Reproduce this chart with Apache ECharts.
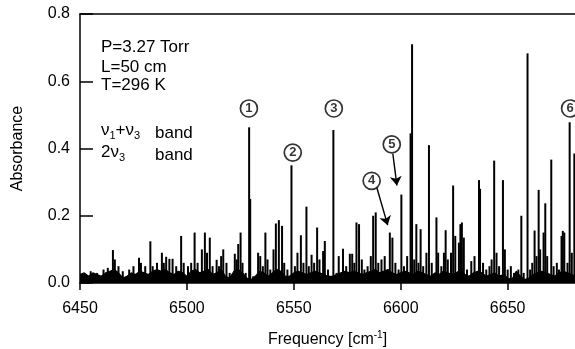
<!DOCTYPE html>
<html>
<head>
<meta charset="utf-8">
<script src="https://cdn.jsdelivr.net/npm/echarts@6/dist/echarts.min.js"></script>
<style>
  html, body { margin: 0; padding: 0; background: #fff; }
  #chart { width: 575px; height: 349px; }
</style>
</head>
<body>
<div id="chart"></div>
<script>
// strong lines: frequency (cm-1) and absorbance
const peakFreq = [
  6452, 6455, 6458, 6461, 6463, 6465.4, 6466.3, 6468, 6470, 6473, 6475, 6477.6, 6478.5, 6480.5,
  6482.9, 6484, 6486, 6488.3, 6489.2, 6490.3, 6491.8, 6493.3, 6495, 6497.3, 6498.5, 6500.5,
  6502, 6503.6, 6505, 6507, 6508.4, 6509.4, 6510.7, 6512, 6513.9, 6515, 6516, 6517, 6518.5,
  6520, 6522.4, 6523.3, 6524, 6525.1, 6526, 6527.5, 6529.1, 6529.6, 6531, 6533.3, 6534.3,
  6535.5, 6536.7, 6537.7, 6539, 6540.5, 6541.6, 6543, 6544.5, 6545.5, 6547, 6548.9, 6550.5,
  6551.7, 6553.3, 6554.5, 6555.9, 6557, 6558.3, 6559.5, 6560.9, 6562, 6563.7, 6564.5, 6566,
  6568.5, 6570, 6571, 6573, 6574.5, 6576.2, 6577.3, 6578.3, 6579.3, 6580.5, 6581.8, 6583,
  6584.5, 6586, 6587.1, 6588.3, 6589.5, 6591, 6592.5, 6594.9, 6596.1, 6597.5, 6599, 6600.3,
  6601.5, 6603, 6604.6, 6605.3, 6606.3, 6607.3, 6608.3, 6609.3, 6610.5, 6612, 6613.2, 6614.5,
  6616.7, 6617.5, 6619, 6620.2, 6621, 6622, 6623.5, 6624.5, 6625.5, 6627.2, 6627.9, 6628.6,
  6629.5, 6631, 6633, 6634.5, 6636.6, 6637.1, 6638.5, 6640, 6641.5, 6642.5, 6643.7, 6644.8,
  6646, 6647.8, 6648.7, 6650, 6651.5, 6653, 6655, 6656.4, 6657.5, 6659.3, 6660.5, 6661.5,
  6662.6, 6663.5, 6664.5, 6665.2, 6666.8, 6667.6, 6668.5, 6670.4, 6671.5, 6673, 6674, 6675.2,
  6675.8, 6676.5, 6678, 6679, 6680, 6681.2
];
const peakAbs = [
  0.03, 0.035, 0.03, 0.04, 0.045, 0.098, 0.07, 0.05, 0.035, 0.04, 0.05, 0.075, 0.06, 0.05,
  0.124, 0.05, 0.06, 0.09, 0.06, 0.078, 0.072, 0.072, 0.05, 0.14, 0.06, 0.05,
  0.06, 0.15, 0.06, 0.1, 0.15, 0.09, 0.135, 0.05, 0.069, 0.05, 0.08, 0.10, 0.06,
  0.03, 0.087, 0.07, 0.116, 0.15, 0.06, 0.03, 0.463, 0.25, 0.02, 0.09, 0.08,
  0.05, 0.15, 0.07, 0.04, 0.1, 0.177, 0.187, 0.17, 0.06, 0.04, 0.35, 0.05,
  0.09, 0.142, 0.06, 0.227, 0.05, 0.084, 0.06, 0.165, 0.07, 0.095, 0.125, 0.04,
  0.455, 0.03, 0.08, 0.102, 0.05, 0.087, 0.087, 0.06, 0.18, 0.175, 0.07, 0.04,
  0.05, 0.08, 0.2, 0.21, 0.06, 0.07, 0.08, 0.15, 0.135, 0.06, 0.04, 0.263,
  0.05, 0.08, 0.445, 0.71, 0.07, 0.175, 0.06, 0.16, 0.05, 0.09, 0.41, 0.06,
  0.195, 0.09, 0.05, 0.09, 0.157, 0.07, 0.09, 0.29, 0.14, 0.12, 0.175, 0.18,
  0.135, 0.04, 0.065, 0.08, 0.306, 0.28, 0.06, 0.04, 0.05, 0.07, 0.364, 0.09,
  0.05, 0.306, 0.1, 0.04, 0.05, 0.03, 0.04, 0.2, 0.03, 0.683, 0.04, 0.06,
  0.156, 0.08, 0.277, 0.1, 0.15, 0.237, 0.08, 0.367, 0.05, 0.06, 0.04, 0.14,
  0.155, 0.15, 0.06, 0.478, 0.09, 0.385
];

// dense weak-line floor, every 2 cm-1 from 6450
const floorStart = 6450;
const floorStep = 2;
const floorAbs = [
  0.025, 0.03, 0.02, 0.03, 0.025, 0.02, 0.03, 0.035, 0.04, 0.03, 0.015, 0.02, 0.03, 0.025,
  0.035, 0.03, 0.025, 0.035, 0.04, 0.035, 0.04, 0.03, 0.025, 0.035, 0.03,
  0.02, 0.035, 0.04, 0.03, 0.035, 0.04, 0.025, 0.03, 0.04, 0.02, 0.015, 0.035, 0.04, 0.03,
  0.015, 0.01, 0.02, 0.035, 0.03, 0.02, 0.03, 0.04, 0.035, 0.02, 0.02, 0.03, 0.035, 0.03,
  0.025, 0.03, 0.035, 0.03, 0.025, 0.02, 0.02, 0.025, 0.03, 0.035, 0.03, 0.035, 0.03, 0.025,
  0.03, 0.035, 0.04, 0.03, 0.035, 0.04, 0.03, 0.025, 0.03, 0.035, 0.03, 0.025, 0.035, 0.03,
  0.025, 0.02, 0.03, 0.025, 0.035, 0.03, 0.025, 0.03, 0.04, 0.025, 0.02, 0.03, 0.035, 0.03,
  0.02, 0.025, 0.03, 0.02, 0.025, 0.015, 0.01, 0.035, 0.02, 0.01, 0.015, 0.025, 0.03, 0.035,
  0.03, 0.025, 0.02, 0.03, 0.035, 0.03, 0.025, 0.02
];

// circled line labels
const markNames = ['1', '2', '3', '4', '5', '6'];
const markFreq = [6529.0, 6549.5, 6568.7, 6586.4, 6595.8, 6679.2];
const markAbs = [0.519, 0.388, 0.519, 0.304, 0.412, 0.519];

// arrows from labels 4 and 5 to their lines
const arrowFrom = [[6588.8, 0.284], [6596.3, 0.385]];
const arrowTo = [[6593.9, 0.172], [6598.2, 0.290]];

const xTicks = [6450, 6681.5, 50];
const yTicks = [0, 0.8, 0.2];

const FONT = '"Liberation Sans", Arial, Helvetica, sans-serif';
const NOTE = '17px ' + FONT;

const chart = echarts.init(document.getElementById('chart'), null, { renderer: 'canvas' });

const floorData = floorAbs.map((v, i) => [floorStart + i * floorStep, v]);
const peakData = peakFreq.map((f, i) => [f, peakAbs[i]]);

const subRich = {
  m: { fontSize: 17, fontFamily: FONT, lineHeight: 22, verticalAlign: 'middle' },
  s: { fontSize: 11, fontFamily: FONT, lineHeight: 22, verticalAlign: 'bottom' }
};

chart.setOption({
  animation: false,
  backgroundColor: '#fff',
  textStyle: { fontFamily: FONT, color: '#000' },
  grid: { left: 80, right: 0, top: 14, bottom: 66, outerBoundsMode: 'none', containLabel: false },
  xAxis: [
    {
      type: 'value', min: xTicks[0], max: xTicks[1], interval: xTicks[2],
      axisLine: { lineStyle: { color: '#000', width: 1.5 } },
      axisTick: { inside: false, length: 7, lineStyle: { color: '#000', width: 1.5 } },
      axisLabel: {
        color: '#000', fontSize: 16, fontFamily: FONT, margin: 18, showMaxLabel: false,
        formatter: (v) => String(v)
      },
      splitLine: { show: false },
      name: 'Frequency [cm{sup|-1}]',
      nameLocation: 'middle',
      nameGap: 47,
      nameTextStyle: {
        color: '#000', fontSize: 16, fontFamily: FONT, lineHeight: 20,
        rich: { sup: { fontSize: 10, fontFamily: FONT, color: '#000', verticalAlign: 'top', lineHeight: 12 } }
      }
    },
    {
      type: 'value', position: 'top', min: xTicks[0], max: xTicks[1],
      axisLine: { show: true, lineStyle: { color: '#000', width: 1.5 } },
      axisTick: { show: false }, axisLabel: { show: false }, splitLine: { show: false }
    }
  ],
  yAxis: {
    type: 'value', min: yTicks[0], max: yTicks[1], interval: yTicks[2],
    axisLine: { show: true, lineStyle: { color: '#000', width: 1.5 } },
    axisTick: { show: true, inside: true, length: 13, lineStyle: { color: '#000', width: 1.5 } },
    axisLabel: { color: '#000', fontSize: 16, fontFamily: FONT, margin: 10, formatter: (v) => v.toFixed(1) },
    splitLine: { show: false },
    name: 'Absorbance',
    nameLocation: 'middle',
    nameRotate: 90,
    nameGap: 54,
    nameTextStyle: { color: '#000', fontSize: 16, fontFamily: FONT }
  },
  series: [
    {
      type: 'line', data: floorData, showSymbol: false, z: 2,
      lineStyle: { color: '#000', width: 1.2 },
      areaStyle: { color: '#000', opacity: 1 }
    },
    {
      type: 'bar', data: peakData, barWidth: 2, z: 3,
      itemStyle: { color: '#000' }
    },
    {
      type: 'scatter', z: 5,
      data: markFreq.map((f, i) => ({ value: [f, markAbs[i]], name: markNames[i] })),
      symbol: 'circle', symbolSize: 17,
      itemStyle: { color: '#fff', borderColor: '#000', borderWidth: 1.7 },
      label: {
        show: true, position: 'inside', formatter: (p) => p.name,
        color: '#000', fontSize: 13, fontWeight: 'bold', fontFamily: FONT
      }
    },
    {
      type: 'lines', coordinateSystem: 'cartesian2d', z: 4,
      data: arrowFrom.map((a, i) => ({ coords: [a, arrowTo[i]] })),
      symbol: ['none', 'arrow'], symbolSize: 9,
      lineStyle: { color: '#000', width: 1.4, opacity: 1 }
    }
  ],
  graphic: [
    {
      type: 'group', left: 101, top: 39,
      children: [
        { type: 'text', x: 0, y: 0, style: { text: 'P=3.27 Torr', font: NOTE, fill: '#000' } },
        { type: 'text', x: 0, y: 20, style: { text: 'L=50 cm', font: NOTE, fill: '#000' } },
        { type: 'text', x: 0, y: 38, style: { text: 'T=296 K', font: NOTE, fill: '#000' } }
      ]
    },
    {
      type: 'text', left: 101, top: 122,
      style: { text: '{m|ν}{s|1}{m|+ν}{s|3}', fill: '#000', rich: subRich }
    },
    {
      type: 'text', left: 101, top: 144,
      style: { text: '{m|2ν}{s|3}', fill: '#000', rich: subRich }
    },
    { type: 'text', left: 155, top: 125, style: { text: 'band', font: NOTE, fill: '#000' } },
    { type: 'text', left: 155, top: 147, style: { text: 'band', font: NOTE, fill: '#000' } }
  ]
});
</script>
</body>
</html>
